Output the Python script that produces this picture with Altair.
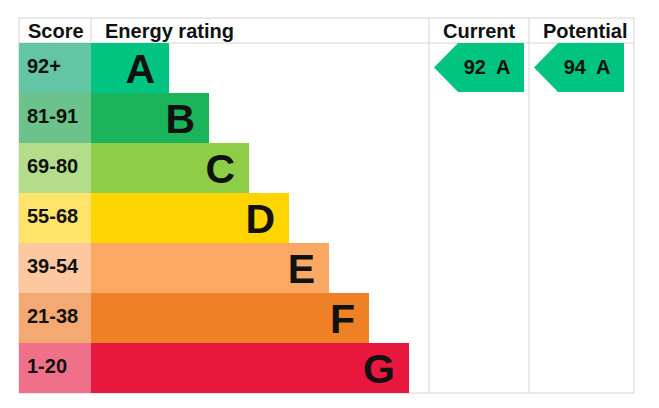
import altair as alt
import pandas as pd

# data
bands = ["A", "B", "C", "D", "E", "F", "G"]
score_ranges = ["92+", "81-91", "69-80", "55-68", "39-54", "21-38", "1-20"]
band_floor = [92, 81, 69, 55, 39, 21, 1]
bar_colors = ["#00c47f", "#1cb45a", "#8dce46", "#ffd500", "#fba864", "#ee8126", "#e8173d"]
score_colors = ["#64c5a5", "#6bc28a", "#b3dd8a", "#ffe36b", "#fdc8a0", "#f4a872", "#f0708a"]
headers = ["Score", "Energy rating", "Current", "Potential"]
current_score = 92
potential_score = 94

# layout (pixels in the 659x408 page)
LEFT, SCORE_W, TOP, HEAD_H, ROW_H = 19, 72, 18, 25, 50
BAR_MIN, BAR_STEP = 78, 40
CUR_X, POT_X, RIGHT = 429, 529, 634
FONT = "Liberation Sans"
LINE = "#d4d4d4"

bar_x0 = LEFT + SCORE_W
rows = pd.DataFrame({
    "band": bands,
    "range": score_ranges,
    "bar_color": bar_colors,
    "score_color": score_colors,
})
rows["top"] = [TOP + HEAD_H + ROW_H * i for i in range(len(bands))]
rows["bottom"] = rows["top"] + ROW_H
rows["left"] = LEFT
rows["x0"] = bar_x0
rows["x1"] = [bar_x0 + BAR_MIN + BAR_STEP * i for i in range(len(bands))]
rows["letter_x"] = rows["x1"] - 14
rows["letter_y"] = rows["top"] + 40
rows["range_x"] = LEFT + 8
rows["range_y"] = rows["top"] + 30

bottom = TOP + HEAD_H + ROW_H * len(bands)
grid = pd.DataFrame([
    {"x": LEFT, "x2": RIGHT, "y": TOP, "y2": TOP},
    {"x": LEFT, "x2": RIGHT, "y": TOP + HEAD_H, "y2": TOP + HEAD_H},
    {"x": LEFT, "x2": RIGHT, "y": bottom, "y2": bottom},
    {"x": LEFT, "x2": LEFT, "y": TOP, "y2": bottom},
    {"x": bar_x0, "x2": bar_x0, "y": TOP, "y2": TOP + HEAD_H},
    {"x": CUR_X, "x2": CUR_X, "y": TOP, "y2": bottom},
    {"x": POT_X, "x2": POT_X, "y": TOP, "y2": bottom},
    {"x": RIGHT, "x2": RIGHT, "y": TOP, "y2": bottom},
])

head = pd.DataFrame({
    "text": headers,
    "x": [LEFT + 9, bar_x0 + 14, CUR_X + 14, POT_X + 14],
    "y": [TOP + 20] * 4,
})


def band_of(score):
    for i, f in enumerate(band_floor):
        if score >= f:
            return i
    return len(bands) - 1


arrow_pts = []
arrow_txt = []
for name, score, col in [("current", current_score, CUR_X), ("potential", potential_score, POT_X)]:
    i = band_of(score)
    t = TOP + HEAD_H + ROW_H * i
    b = t + ROW_H - 1
    tip = col + 5
    mid = (t + b) / 2
    for x, yt, yb in [(tip, mid, mid), (tip + 24, t, b), (tip + 90, t, b)]:
        arrow_pts.append({"id": name, "x": x, "yt": yt, "yb": yb, "color": bar_colors[i]})
    arrow_txt.append({"x": tip + 53, "y": t + 31, "text": f"{score}\u2002{bands[i]}"})
arrow_pts = pd.DataFrame(arrow_pts)
arrow_txt = pd.DataFrame(arrow_txt)

xs = alt.Scale(domain=[8, 651], nice=False, zero=False)
ys = alt.Scale(domain=[8, 400], nice=False, zero=False, reverse=True)


def X(f):
    return alt.X(f, type="quantitative", scale=xs, axis=None)


def Y(f):
    return alt.Y(f, type="quantitative", scale=ys, axis=None)


score_cells = alt.Chart(rows).mark_rect().encode(
    x=X("left"), x2="x0", y=Y("top"), y2="bottom",
    color=alt.Color("score_color:N", scale=None),
)
bars = alt.Chart(rows).mark_rect().encode(
    x=X("x0"), x2="x1", y=Y("top"), y2="bottom",
    color=alt.Color("bar_color:N", scale=None),
)
lines = alt.Chart(grid).mark_rule(color=LINE, strokeWidth=1).encode(
    x=X("x"), x2="x2", y=Y("y"), y2="y2",
)
range_text = alt.Chart(rows).mark_text(
    align="left", baseline="alphabetic", font=FONT, fontSize=20, fontWeight="bold", color="#111"
).encode(x=X("range_x"), y=Y("range_y"), text="range:N")
letters = alt.Chart(rows).mark_text(
    align="right", baseline="alphabetic", font=FONT, fontSize=41, fontWeight="bold", color="#111"
).encode(x=X("letter_x"), y=Y("letter_y"), text="band:N")
head_text = alt.Chart(head).mark_text(
    align="left", baseline="alphabetic", font=FONT, fontSize=20, fontWeight="bold", color="#111"
).encode(x=X("x"), y=Y("y"), text="text:N")
arrows = alt.Chart(arrow_pts).mark_area(interpolate="linear").encode(
    x=X("x"), y=Y("yt"), y2="yb", detail="id:N",
    color=alt.Color("color:N", scale=None),
)
arrow_labels = alt.Chart(arrow_txt).mark_text(
    align="center", baseline="alphabetic", font=FONT, fontSize=20, fontWeight="bold", color="#111"
).encode(x=X("x"), y=Y("y"), text="text:N")

chart = alt.layer(
    lines, score_cells, bars, arrows, range_text, letters, head_text, arrow_labels
).properties(
    width=643, height=392, autosize=alt.AutoSizeParams(type="none"), padding=0,
    background="white",
).configure_view(strokeWidth=0)

chart.save("out.html", embed_options={"renderer": "svg", "actions": False})
